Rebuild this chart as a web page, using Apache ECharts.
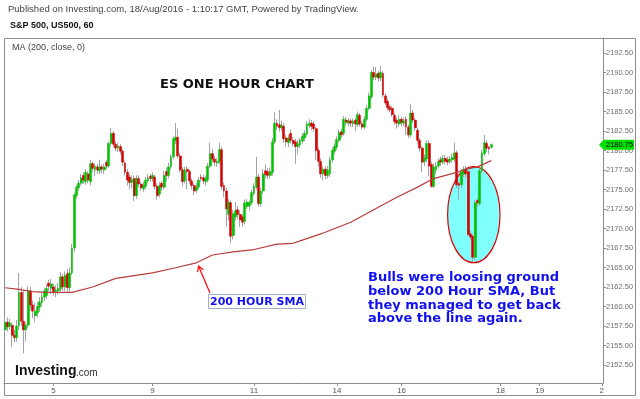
<!DOCTYPE html>
<html><head><meta charset="utf-8">
<script src="https://cdn.jsdelivr.net/npm/echarts@6/dist/echarts.min.js"></script>
<style>html,body{margin:0;padding:0;background:#fff}#c{width:640px;height:399px}</style>
</head><body><div id="c"></div>
<script>
// [open, close, low, high] per hourly candle
const candles = [
[2157.0,2158.0,2156.5,2158.7],[2158.0,2157.4,2156.8,2158.6],[2157.4,2157.9,2157.0,2158.4],[2157.6,2156.3,2154.8,2158.0],
[2156.3,2156.0,2155.4,2157.0],[2156.0,2157.5,2155.5,2158.3],[2157.5,2161.8,2157.0,2164.3],[2161.8,2158.1,2157.5,2162.5],
[2158.1,2157.0,2154.0,2162.0],[2157.0,2157.6,2155.5,2158.0],[2157.6,2162.0,2157.2,2162.6],[2162.0,2160.2,2159.5,2162.5],
[2160.2,2159.4,2158.5,2160.8],[2158.8,2159.4,2158.0,2160.5],[2159.2,2160.0,2158.6,2160.6],[2159.9,2160.6,2159.3,2161.2],
[2160.5,2161.2,2160.0,2161.7],[2161.2,2162.0,2160.7,2162.4],[2161.4,2162.3,2161.0,2162.8],[2163.0,2162.6,2162.0,2163.4],
[2162.3,2162.9,2161.6,2163.5],[2162.5,2161.9,2161.4,2162.9],[2161.9,2162.1,2161.2,2162.7],[2162.0,2162.3,2161.5,2163.0],
[2162.3,2163.8,2162.0,2164.4],[2163.8,2162.5,2162.0,2164.2],[2162.5,2164.0,2162.0,2164.5],[2164.2,2162.4,2161.9,2164.8],
[2162.4,2164.3,2161.9,2165.0],[2164.3,2167.5,2164.0,2168.0],[2167.5,2174.3,2167.0,2174.6],[2174.2,2175.3,2173.8,2175.6],
[2175.2,2175.8,2174.8,2176.2],[2175.8,2176.5,2175.5,2177.0],[2176.8,2176.2,2175.7,2177.2],[2176.0,2177.2,2175.6,2177.6],
[2177.0,2176.2,2175.8,2177.3],[2176.0,2178.3,2175.5,2178.8],[2178.3,2177.7,2177.2,2178.6],[2177.5,2178.0,2176.7,2178.4],
[2177.9,2177.5,2177.0,2178.3],[2177.4,2177.9,2177.0,2178.8],[2177.9,2177.6,2177.1,2178.2],[2177.5,2177.9,2177.0,2178.3],
[2178.5,2178.0,2177.6,2178.8],[2178.0,2180.9,2177.8,2181.2],[2180.9,2182.2,2180.5,2182.9],[2182.2,2180.8,2180.4,2182.5],
[2180.8,2180.3,2179.9,2181.2],[2180.3,2180.6,2179.8,2181.0],[2180.5,2179.9,2179.5,2180.8],[2179.9,2178.5,2178.0,2180.2],
[2178.4,2177.2,2176.8,2178.7],[2177.2,2176.2,2175.5,2177.6],[2176.6,2175.9,2175.0,2177.0],[2175.9,2176.3,2175.2,2176.8],
[2176.4,2174.2,2173.5,2176.8],[2174.2,2176.4,2173.8,2176.8],[2176.4,2175.7,2175.3,2176.8],[2175.7,2175.2,2174.8,2176.0],
[2175.1,2175.5,2174.7,2176.0],[2175.4,2176.2,2175.0,2176.6],[2176.1,2176.5,2175.8,2177.0],[2176.7,2176.4,2176.0,2177.0],
[2176.4,2176.8,2176.0,2177.2],[2176.6,2175.4,2175.0,2176.9],[2175.4,2174.2,2173.7,2175.8],[2174.4,2175.5,2174.0,2175.9],
[2175.8,2175.3,2174.8,2176.1],[2175.3,2176.8,2175.0,2177.4],[2177.3,2176.8,2176.0,2177.8],[2176.8,2177.9,2176.4,2178.4],
[2177.9,2179.2,2177.5,2179.5],[2179.2,2181.5,2178.9,2181.8],[2181.3,2181.7,2180.8,2183.5],[2181.7,2179.3,2179.0,2182.8],
[2179.3,2177.5,2177.2,2179.7],[2177.5,2176.0,2175.4,2177.9],[2176.1,2177.5,2175.8,2177.9],[2177.6,2177.3,2175.0,2178.0],
[2177.3,2176.1,2175.7,2177.6],[2176.1,2175.5,2175.0,2176.4],[2175.5,2174.8,2174.3,2175.8],[2174.9,2175.3,2174.5,2175.8],
[2175.3,2176.2,2175.0,2176.6],[2176.6,2176.4,2176.0,2177.0],[2176.5,2176.1,2175.7,2176.9],[2176.0,2176.4,2175.5,2176.8],
[2176.2,2178.0,2175.9,2178.4],[2178.0,2179.6,2177.7,2181.0],[2179.6,2178.9,2178.5,2180.2],[2178.9,2178.5,2178.0,2179.3],
[2178.4,2178.6,2177.9,2179.0],[2178.6,2180.1,2178.2,2181.0],[2180.1,2175.4,2175.0,2180.5],[2175.5,2174.8,2174.0,2175.9],
[2174.8,2172.5,2170.3,2175.2],[2171.8,2173.4,2171.0,2173.8],[2173.3,2169.0,2168.1,2173.6],[2169.1,2171.9,2168.6,2172.4],
[2171.5,2172.3,2171.0,2173.4],[2172.4,2171.8,2171.2,2172.9],[2171.8,2171.1,2170.2,2172.3],[2171.5,2170.8,2170.2,2171.9],
[2170.9,2173.3,2170.5,2173.7],[2172.8,2173.4,2172.5,2173.8],[2172.9,2173.3,2172.3,2173.6],[2173.3,2174.6,2173.0,2175.0],
[2174.5,2175.4,2174.2,2175.8],[2175.3,2176.6,2175.0,2179.2],[2176.6,2173.2,2172.8,2177.0],[2173.2,2174.8,2172.8,2175.2],
[2174.8,2177.0,2174.4,2177.6],[2177.4,2176.9,2176.4,2178.2],[2177.3,2176.8,2176.3,2177.7],[2176.8,2177.3,2176.4,2177.8],
[2177.2,2181.1,2176.8,2181.6],[2181.1,2183.5,2180.8,2184.9],[2183.5,2183.1,2182.6,2184.0],[2183.3,2182.9,2182.4,2185.2],
[2182.9,2183.2,2182.5,2183.8],[2183.1,2181.5,2181.0,2183.5],[2181.6,2181.1,2180.5,2182.0],[2181.0,2181.6,2180.4,2182.0],
[2182.2,2181.3,2180.9,2182.7],[2181.3,2180.9,2180.5,2181.7],[2181.1,2180.5,2178.3,2181.5],[2180.5,2180.9,2179.5,2181.3],
[2180.7,2181.3,2180.3,2181.6],[2181.2,2181.8,2180.9,2182.2],[2181.6,2182.2,2181.2,2182.6],[2182.1,2183.4,2181.8,2183.8],
[2183.2,2183.5,2182.9,2184.0],[2183.5,2183.1,2182.6,2183.9],[2183.4,2182.8,2182.4,2183.8],[2182.8,2180.0,2178.8,2183.0],
[2180.0,2178.6,2178.0,2180.4],[2178.6,2177.0,2176.5,2179.0],[2177.0,2177.6,2176.2,2178.0],[2177.6,2176.8,2176.3,2178.0],
[2176.8,2177.5,2176.4,2178.0],[2177.0,2178.8,2176.6,2179.2],[2178.8,2180.0,2178.5,2180.4],[2179.9,2180.5,2179.5,2180.9],
[2180.4,2181.4,2180.0,2181.8],[2181.3,2182.3,2181.0,2182.7],[2182.4,2182.0,2181.6,2182.8],[2182.2,2184.0,2181.9,2184.4],
[2183.9,2183.6,2183.2,2184.3],[2183.5,2183.8,2183.1,2184.2],[2183.8,2183.5,2183.0,2184.1],[2183.4,2183.8,2183.0,2184.1],
[2183.9,2183.4,2182.5,2184.2],[2183.3,2184.6,2183.0,2185.0],[2184.5,2183.4,2183.1,2184.8],[2183.4,2183.0,2182.7,2183.8],
[2183.0,2184.0,2182.7,2184.4],[2184.0,2185.4,2183.7,2185.8],[2185.4,2187.0,2185.1,2187.4],[2186.9,2190.0,2186.6,2190.3],
[2190.0,2189.4,2189.0,2190.7],[2189.4,2189.8,2189.0,2190.7],[2189.9,2189.3,2188.8,2190.2],[2189.3,2190.0,2188.9,2190.8],
[2189.9,2187.1,2186.8,2190.2],[2187.0,2186.1,2185.8,2187.3],[2186.3,2185.5,2185.1,2186.6],[2185.6,2185.2,2184.9,2185.9],
[2185.4,2184.6,2184.3,2185.7],[2184.5,2183.7,2183.3,2184.8],[2183.9,2183.5,2182.8,2184.2],[2183.4,2184.0,2183.0,2184.5],
[2184.0,2183.6,2183.1,2184.3],[2183.5,2183.8,2183.1,2184.2],[2184.0,2183.0,2182.0,2184.4],[2183.0,2182.0,2181.6,2183.3],
[2182.0,2184.8,2181.7,2186.0],[2184.8,2183.9,2183.5,2185.2],[2183.9,2182.9,2182.5,2184.2],[2182.6,2181.3,2180.9,2182.9],
[2181.3,2180.3,2179.9,2181.6],[2180.3,2178.5,2177.2,2180.6],[2178.6,2179.0,2178.0,2179.5],[2178.9,2180.9,2178.5,2181.3],
[2180.9,2178.0,2176.7,2181.3],[2178.2,2175.4,2175.2,2178.5],[2175.4,2177.9,2175.2,2178.3],[2177.5,2178.0,2177.0,2178.5],
[2178.0,2178.6,2177.7,2179.0],[2178.8,2178.5,2178.0,2179.2],[2178.5,2179.0,2178.2,2179.4],[2179.0,2178.6,2178.2,2179.4],
[2178.8,2178.5,2178.1,2179.2],[2178.6,2178.9,2178.3,2179.3],[2178.8,2179.1,2178.4,2179.6],[2178.9,2179.7,2178.5,2181.0],
[2179.7,2175.6,2175.2,2180.0],[2175.8,2175.5,2173.7,2176.1],[2175.6,2177.2,2175.2,2177.6],[2177.0,2177.6,2176.6,2178.0],
[2177.6,2177.0,2176.5,2178.0],[2177.3,2169.2,2169.0,2177.6],[2169.3,2168.9,2168.5,2169.7],[2169.0,2166.3,2165.7,2169.3],
[2166.3,2173.3,2166.0,2173.6],[2173.6,2173.3,2172.8,2173.9],[2173.2,2177.4,2172.9,2177.8],[2177.4,2179.7,2177.1,2180.1],
[2179.6,2181.0,2179.3,2182.0],[2180.9,2180.3,2179.8,2181.3],[2180.4,2180.2,2179.5,2180.6],[2180.4,2180.75,2180.3,2180.9]
];
// 200-hour SMA, read at these candle positions
const maIdx = [0, 6, 12, 18, 29, 38, 48, 64, 73, 83, 90, 99, 108, 118, 125, 129, 137, 150, 160, 170, 179, 186, 196, 200, 205, 211];
const maVal = [2162.4, 2162.2, 2161.9, 2161.8, 2161.8, 2162.5, 2163.6, 2164.3, 2164.9, 2165.6, 2166.6, 2167.0, 2167.3, 2168.0, 2168.1, 2168.5, 2169.3, 2170.8, 2172.4, 2174.0, 2175.3, 2176.4, 2177.2, 2177.6, 2177.9, 2178.7];
const dayTickIdx = [21, 64, 108, 144, 172, 215, 232, 259];
const dayTickText = ['5', '9', '11', '14', '16', '18', '19', '2'];
const priceTicks = [2152.5, 2155, 2157.5, 2160, 2162.5, 2165, 2167.5, 2170, 2172.5, 2175, 2177.5, 2180, 2182.5, 2185, 2187.5, 2190, 2192.5];
const lastPrice = 2180.75;
const categoryCount = 260;
const priceMin = 2150.19, priceMax = 2194.42;

const categories = Array.from({length: categoryCount}, (_, i) => String(i));
const bodies = candles.map(([o, c]) => [o, c, Math.min(o, c), Math.max(o, c)]);
const maData = maIdx.map((i, k) => [i, maVal[k]]);

const UP = '#00c000', DOWN = '#d40000', WICK = '#a3a3a3';
const chart = echarts.init(document.getElementById('c'), null, {renderer: 'canvas'});
const staticGraphics = [
  {type: 'rect', z: 0, shape: {x: 4.5, y: 38.5, width: 631, height: 357}, style: {fill: 'none', stroke: '#8c8c8c', lineWidth: 1}},
  {type: 'text', z: 10, x: 8, y: 9, style: {text: 'Published on Investing.com, 18/Aug/2016 - 1:10:17 GMT, Powered by TradingView.', fill: '#444', font: '9.5px "Liberation Sans"', textVerticalAlign: 'middle'}},
  {type: 'text', z: 10, x: 10, y: 26, style: {text: 'S&P 500, US500, 60', fill: '#111', font: 'bold 9px "Liberation Sans"', textVerticalAlign: 'middle'}},
  {type: 'text', z: 10, x: 12, y: 48, style: {text: 'MA (200, close, 0)', fill: '#444', font: '9px "Liberation Sans"', textVerticalAlign: 'middle'}},
  {type: 'text', z: 10, x: 160, y: 85, style: {text: 'ES ONE HOUR CHART', fill: '#111', font: 'bold 13px "DejaVu Sans"', textVerticalAlign: 'middle'}},
  {type: 'ellipse', z: 1, shape: {cx: 473.8, cy: 214.7, rx: 26.2, ry: 48}, style: {fill: '#80ffff', stroke: '#e00000', lineWidth: 1.2}},
  {type: 'line', z: 10, shape: {x1: 210, y1: 293, x2: 198.5, y2: 266}, style: {stroke: '#ff0000', lineWidth: 1.2}},
  {type: 'polyline', z: 10, shape: {points: [[197.6, 272.2], [198.5, 266], [203.4, 269.7]]}, style: {stroke: '#ff0000', lineWidth: 1.2, fill: 'none'}},
  {type: 'rect', z: 10, shape: {x: 208.5, y: 294.5, width: 97, height: 14}, style: {fill: '#fff', stroke: '#9fb0c8', lineWidth: 1}},
  {type: 'text', z: 11, x: 257, y: 301.8, style: {text: '200 HOUR SMA', fill: '#1010f0', font: 'bold 11px "DejaVu Sans"', textAlign: 'center', textVerticalAlign: 'middle'}},
  {type: 'text', z: 10, x: 368, y: 271, style: {text: 'Bulls were loosing ground\nbelow 200 Hour SMA, But\nthey managed to get back\nabove the line again.', fill: '#1010f0', font: 'bold 13px "DejaVu Sans"', lineHeight: 13.7}},
  {type: 'text', z: 10, x: 15, y: 371, style: {text: 'Investing', fill: '#111', font: 'bold 14px "Liberation Sans"', textVerticalAlign: 'middle'}},
  {type: 'text', z: 10, x: 76, y: 373, style: {text: '.com', fill: '#333', font: '10px "Liberation Sans"', textVerticalAlign: 'middle'}}
];
chart.setOption({
  animation: false,
  backgroundColor: '#fff',
  grid: {left: 4, right: 37, top: 38, bottom: 16},
  xAxis: {
    type: 'category', data: categories, boundaryGap: true,
    axisLine: {lineStyle: {color: '#8c8c8c', width: 1}},
    axisTick: {show: true, interval: (i) => dayTickIdx.includes(i), alignWithLabel: true, length: 3, lineStyle: {color: '#8c8c8c'}},
    axisLabel: {interval: (i) => dayTickIdx.includes(i), formatter: (v, i) => dayTickText[dayTickIdx.indexOf(i)] || '',
      color: '#555', fontSize: 8, margin: 4, fontFamily: 'Liberation Sans'},
    splitLine: {show: false}
  },
  yAxis: {
    type: 'value', position: 'right', min: priceMin, max: priceMax,
    splitLine: {show: false},
    axisLine: {show: true, lineStyle: {color: '#8c8c8c', width: 1}},
    axisTick: {show: true, length: 3, customValues: priceTicks, lineStyle: {color: '#8c8c8c'}},
    axisLabel: {customValues: priceTicks, formatter: (v) => v.toFixed(2), color: '#707070', fontSize: 7.5, margin: 3, fontFamily: 'Liberation Sans'}
  },
  series: [
    {type: 'candlestick', data: candles, barWidth: 1, z: 3, silent: true,
      itemStyle: {color: WICK, color0: WICK, borderColor: WICK, borderColor0: WICK, borderWidth: 1}},
    {type: 'candlestick', data: bodies, barWidth: 2.4, z: 4, silent: true,
      itemStyle: {color: UP, color0: DOWN, borderColor: UP, borderColor0: DOWN, borderWidth: 0.5}},
    {type: 'line', data: maData, showSymbol: false, z: 5, silent: true,
      lineStyle: {color: '#b83c3c', width: 1.2}}
  ],
  graphic: staticGraphics
});
// last-price tag on the price scale, positioned through the axis
const py = chart.convertToPixel({yAxisIndex: 0}, lastPrice);
chart.setOption({graphic: staticGraphics.concat([
  {type: 'polygon', z: 20, shape: {points: [[599, py], [603.5, py - 5], [634, py - 5], [634, py + 5], [603.5, py + 5]]}, style: {fill: '#00e000'}},
  {type: 'text', z: 21, x: 606, y: py + 0.5, style: {text: lastPrice.toFixed(2), fill: '#000', font: '7.5px "Liberation Sans"', textVerticalAlign: 'middle'}}
])});
</script></body></html>
